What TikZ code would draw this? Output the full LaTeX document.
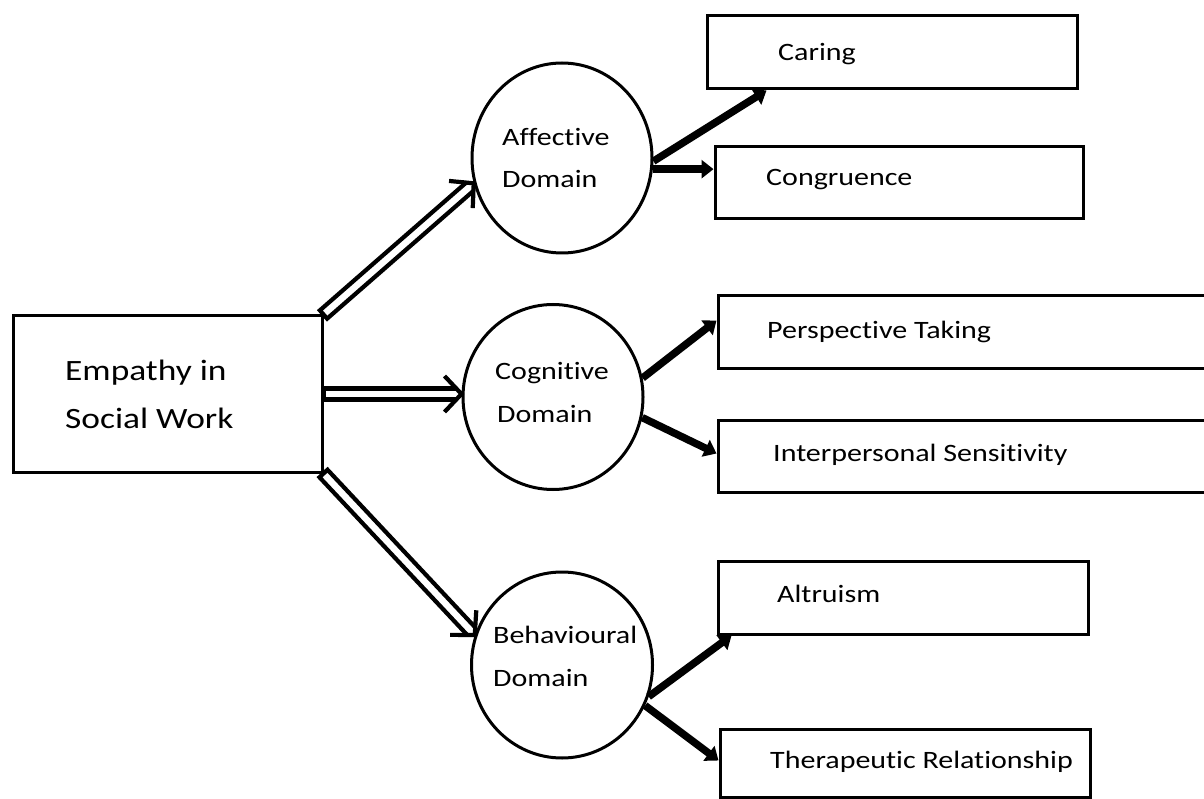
\documentclass[tikz,border=0pt]{standalone}
\usepackage{fontspec}
\setmainfont[FakeStretch=1.2,Ligatures=NoCommon]{Carlito}
\usetikzlibrary{arrows.meta,shapes.geometric,calc}
\newcommand\hollowarr[2]{%
  \path let \p1=(#1), \p2=(#2),
    \n1={atan2(\y2-\y1,\x2-\x1)}, \n2={veclen(\x2-\x1,\y2-\y1)} in
    \pgfextra{\xdef\hAng{\n1}\xdef\hLen{\n2}\xdef\hX{\x1}\xdef\hY{\y1}};
  \begin{scope}[shift={(\hX,\hY)},rotate=\hAng,hollowline]
    \draw ({\hLen-17},18) -- (\hLen,0) -- ({\hLen-17},-18);
    \draw ({\hLen-5.5},5.5) -- (0,5.5) -- (0,-5.5) -- ({\hLen-5.5},-5.5);
  \end{scope}}
\begin{document}
\begin{tikzpicture}[x=1pt,y=-1pt,
  rbox/.style={draw,line width=3pt,rectangle,inner sep=0pt},
  dom/.style={draw,line width=3pt,ellipse,inner sep=0pt},
  lbl/.style={anchor=base west,inner sep=0pt,font=\fontsize{25}{30}\selectfont},
  mlbl/.style={anchor=base west,inner sep=0pt,font=\fontsize{29.5}{36}\selectfont},
  hollowline/.style={line width=4.2pt,line join=miter,line cap=butt},
  solidarr/.style={line width=7.5pt,-{Triangle[length=12pt,width=18pt]}}]
\clip (0,0) rectangle (1204,799);
\fill[white] (0,0) rectangle (1204,799);
% boxes
\node[rbox,minimum width=309pt,minimum height=156pt] (main) at (167.5,394) {};
\node[rbox,minimum width=370pt,minimum height=73pt] (caring) at (892,52.5) {};
\node[rbox,minimum width=368pt,minimum height=72pt] (congr) at (899,183) {};
\node[rbox,minimum width=512pt,minimum height=72pt] (persp) at (974,332) {};
\node[rbox,minimum width=512pt,minimum height=72pt] (inter) at (974,456) {};
\node[rbox,minimum width=370pt,minimum height=73pt] (altru) at (903,597.5) {};
\node[rbox,minimum width=370pt,minimum height=68pt] (thera) at (905,763) {};
% domains
\node[dom,minimum width=180pt,minimum height=190pt] (aff) at (562,158) {};
\node[dom,minimum width=180pt,minimum height=185pt] (cog) at (553,397) {};
\node[dom,minimum width=181pt,minimum height=186pt] (beh) at (562,665) {};
% texts
\node[mlbl] (t1) at (65,380) {Empathy in};
\node[mlbl] (t2) at (65,428) {Social Work};
\node[lbl] (ta1) at (502,146) {Affective};
\node[lbl] (ta2) at (502,188) {Domain};
\node[lbl] (tc1) at (495,379) {Cognitive};
\node[lbl] (tc2) at (497,422) {Domain};
\node[lbl] (tb1) at (493,643) {Behavioural};
\node[lbl] (tb2) at (493,686) {Domain};
\node[lbl] (tca) at (778,61) {Caring};
\node[lbl] (tco) at (766,186) {Congruence};
\node[lbl] (tpe) at (767,338) {Perspective Taking};
\node[lbl] (tin) at (773,461) {Interpersonal Sensitivity};
\node[lbl] (tal) at (777,602) {Altruism};
\node[lbl] (tth) at (770,768) {Therapeutic Relationship};
% hollow arrows
\hollowarr{main.north east}{aff.196}
\hollowarr{main.east}{main.east -| cog.west}
\hollowarr{main.south east}{beh.161}
% solid arrows
\draw[solidarr] (aff.-2.5) -- ($(caring.south west)+(61,0)$);
\draw[solidarr] (aff.-7.5) -- (aff.-7.5 -| congr.west);
\draw[solidarr] (cog.12.5) -- ($(persp.north west)+(0,26)$);
\draw[solidarr] (cog.-13) -- ($(inter.north west)+(0,35)$);
\draw[solidarr] (beh.-20.6) -- ($(altru.south west)+(15,0)$);
\draw[solidarr] (beh.-26) -- ($(thera.north west)+(0,33)$);
\end{tikzpicture}
\end{document}
